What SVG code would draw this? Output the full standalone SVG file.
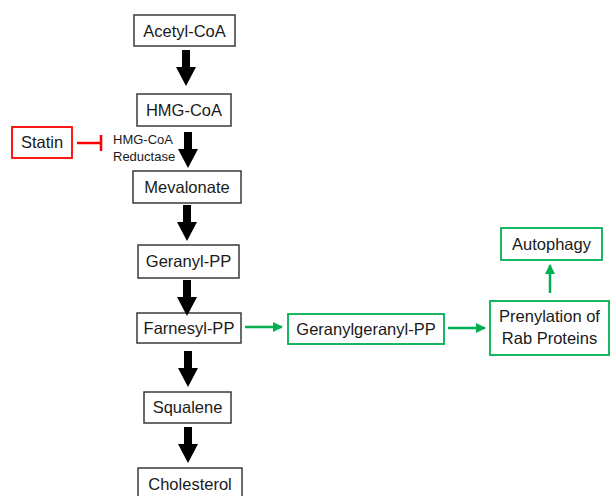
<svg xmlns="http://www.w3.org/2000/svg" width="611" height="496" viewBox="0 0 611 496">
<style>
.box{fill:#fff;stroke:#3a3a3a;stroke-width:1.5}
.gbox{fill:#fff;stroke:#00b050;stroke-width:1.8}
.rbox{fill:#fff;stroke:#ff0000;stroke-width:1.8}
.t{font-family:"Liberation Sans",Arial,sans-serif;font-size:16.5px;fill:#1a1a1a;text-anchor:middle}
.s{font-family:"Liberation Sans",Arial,sans-serif;font-size:13px;fill:#1a1a1a}
.g{stroke:#00b050;stroke-width:2.5;fill:none;marker-end:url(#gh)}
</style>
<defs>
<path id="ba" d="M-4,0 H4 V17 H10 L0,36 L-10,17 H-4 Z" fill="#000"/>
<marker id="gh" markerWidth="10" markerHeight="10" viewBox="0 0 10 10" refX="9" refY="5" orient="auto" markerUnits="userSpaceOnUse">
<path d="M0,0 L10,5 L0,10 Z" fill="#00b050"/>
</marker>
</defs>
<g id="acetyl"><rect class="box" x="134" y="15" width="101" height="31"/><text class="t" x="184.5" y="36.5">Acetyl-CoA</text></g>
<g id="hmg"><rect class="box" x="137" y="94" width="94" height="32"/><text class="t" x="184" y="115.5">HMG-CoA</text></g>
<g id="statin"><rect class="rbox" x="12" y="127" width="60" height="31"/><text class="t" x="42" y="148">Statin</text></g>
<g id="reductase"><text class="s" x="113" y="144">HMG-CoA</text><text class="s" x="113" y="161">Reductase</text></g>
<g id="mevalonate"><rect class="box" x="133" y="171" width="108" height="32"/><text class="t" x="187" y="192.5">Mevalonate</text></g>
<g id="geranyl"><rect class="box" x="138" y="245" width="101" height="33"/><text class="t" x="188.5" y="267">Geranyl-PP</text></g>
<g id="farnesyl"><rect class="box" x="137" y="313" width="104" height="30"/><text class="t" x="189" y="333.5">Farnesyl-PP</text></g>
<g id="squalene"><rect class="box" x="144" y="392" width="87" height="31"/><text class="t" x="187.5" y="413">Squalene</text></g>
<g id="cholesterol"><rect class="box" x="138" y="468" width="104" height="32"/><text class="t" x="190" y="490">Cholesterol</text></g>
<g id="ggpp"><rect class="gbox" x="288" y="314" width="156" height="30"/><text class="t" x="366" y="334.5">Geranylgeranyl-PP</text></g>
<g id="prenylation"><rect class="gbox" x="490" y="301" width="119" height="54"/><text class="t" x="549.5" y="322">Prenylation of</text><text class="t" x="549.5" y="344">Rab Proteins</text></g>
<g id="autophagy"><rect class="gbox" x="501" y="228" width="101" height="32"/><text class="t" x="551.5" y="249.5">Autophagy</text></g>
<g id="connectors">
<use href="#ba" x="186" y="50"/>
<use href="#ba" x="188" y="132"/>
<use href="#ba" x="187" y="205"/>
<use href="#ba" x="187" y="280"/>
<use href="#ba" x="188" y="351"/>
<use href="#ba" x="188" y="427"/>
<line x1="77" y1="143" x2="101" y2="143" stroke="#ff0000" stroke-width="2.5"/>
<line x1="101" y1="135" x2="101" y2="151" stroke="#ff0000" stroke-width="2.5"/>
<line class="g" x1="245" y1="327" x2="282" y2="327"/>
<line class="g" x1="448" y1="328" x2="485" y2="328"/>
<line class="g" x1="550" y1="293" x2="550" y2="265"/>
</g>
</svg>
